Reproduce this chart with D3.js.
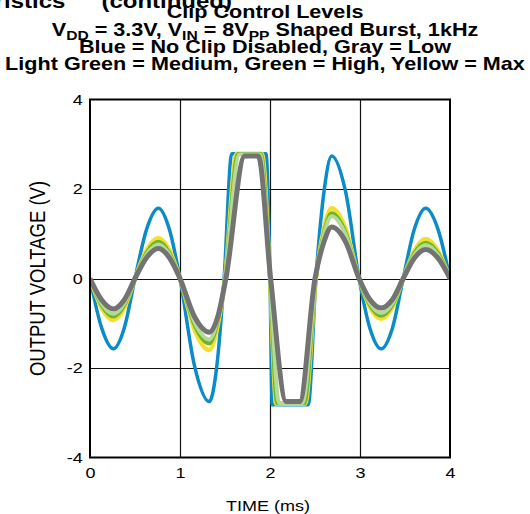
<!DOCTYPE html>
<html>
<head>
<meta charset="utf-8">
<script src="https://cdn.jsdelivr.net/npm/d3@7"></script>
<style>
  body { margin: 0; background: #fff; }
  svg { display: block; font-family: 'Liberation Sans', Arial, sans-serif; }
</style>
</head>
<body>
<svg width="530" height="514"></svg>
<script>
// scope trace points: [time (ms), output (V)]
const noClip = [[0, 0], [0.13, -1.11], [0.26, -1.57], [0.38, -1.11], [0.5, 0], [0.63, 1.11], [0.76, 1.57], [0.88, 1.11], [1.0, 0],
  [1.16, -1.94], [1.325, -2.75], [1.41, -1.94], [1.49, 0], [1.575, 2.79], [1.955, 2.79], [2.0, 0], [2.025, -2.82], [2.425, -2.82], [2.51, 0],
  [2.6, 1.94], [2.685, 2.74], [2.84, 1.94], [2.99, 0], [3.11, -1.11], [3.235, -1.57], [3.36, -1.11], [3.48, 0],
  [3.605, 1.11], [3.73, 1.57], [3.865, 1.11], [4.0, 0]];

const clipMax = [[0, 0], [0.13, -0.66], [0.26, -0.93], [0.38, -0.66], [0.5, 0], [0.63, 0.64], [0.76, 0.9], [0.88, 0.64], [1.0, 0],
  [1.16, -1.13], [1.325, -1.6], [1.41, -1.13], [1.5, 0], [1.63, 2.79], [1.91, 2.79], [2.0, 0], [2.07, -2.8], [2.39, -2.8], [2.51, 0],
  [2.6, 1.11], [2.685, 1.57], [2.84, 1.11], [2.99, 0], [3.11, -0.64], [3.235, -0.9], [3.36, -0.64], [3.48, 0],
  [3.605, 0.62], [3.73, 0.88], [3.865, 0.62], [4.0, 0]];

const clipHigh = [[0, 0], [0.13, -0.6], [0.26, -0.85], [0.38, -0.6], [0.5, 0], [0.63, 0.58], [0.76, 0.82], [0.88, 0.58], [1.0, 0],
  [1.16, -1.03], [1.325, -1.45], [1.41, -1.03], [1.5, 0], [1.645, 2.78], [1.9, 2.78], [2.0, 0], [2.08, -2.79], [2.38, -2.79], [2.51, 0],
  [2.6, 1.03], [2.685, 1.46], [2.84, 1.03], [2.99, 0], [3.11, -0.59], [3.235, -0.83], [3.36, -0.59], [3.48, 0],
  [3.605, 0.57], [3.73, 0.8], [3.865, 0.57], [4.0, 0]];

const clipMedium = [[0, 0], [0.13, -0.56], [0.26, -0.79], [0.38, -0.56], [0.5, 0], [0.63, 0.54], [0.76, 0.76], [0.88, 0.54], [1.0, 0],
  [1.16, -0.97], [1.325, -1.36], [1.41, -0.97], [1.5, 0], [1.66, 2.77], [1.89, 2.77], [2.0, 0], [2.1, -2.78], [2.36, -2.78], [2.51, 0],
  [2.6, 0.98], [2.685, 1.39], [2.84, 0.98], [2.99, 0], [3.11, -0.55], [3.235, -0.77], [3.36, -0.55], [3.48, 0],
  [3.605, 0.53], [3.73, 0.75], [3.865, 0.53], [4.0, 0]];

const clipLow = [[0, 0], [0.13, -0.48], [0.26, -0.68], [0.38, -0.48], [0.5, 0], [0.63, 0.47], [0.76, 0.67], [0.88, 0.47], [1.0, 0],
  [1.16, -0.85], [1.325, -1.2], [1.42, -0.85], [1.51, 0], [1.72, 2.74], [1.87, 2.74], [2.007, 0], [2.18, -2.75], [2.33, -2.75], [2.5, 0],
  [2.6, 0.82], [2.685, 1.15], [2.84, 0.82], [2.99, 0], [3.11, -0.47], [3.235, -0.66], [3.36, -0.47], [3.48, 0],
  [3.605, 0.46], [3.73, 0.65], [3.865, 0.46], [4.0, 0]];

const timeTicks = [0, 1, 2, 3, 4];
const voltTicks = [-4, -2, 0, 2, 4];

const titleLines = [
  [['Clip Control Levels']],
  [['V'], ['DD', true], [' = 3.3V, V'], ['IN', true], [' = 8V'], ['PP', true], [' Shaped Burst, 1kHz']],
  [['Blue = No Clip Disabled, Gray = Low']],
  [['Light Green = Medium, Green = High, Yellow = Max']],
];

// drawn back to front, gray ends up on top
const traces = [
  { points: noClip, colour: '#0b8cc9', width: 3.5 },
  { points: clipMax, colour: '#f4e02c', width: 4.5 },
  { points: clipHigh, colour: '#6bb52e', width: 4 },
  { points: clipMedium, colour: '#b6d995', width: 4 },
  { points: clipLow, colour: '#737373', width: 5 },
];

const svg = d3.select('svg');
const plot = { left: 90, right: 450, top: 99.5, bottom: 457.5 };
// the source figure's lettering is a bit wide for its height
const stretch = 'scale(1.2,1)';

const x = d3.scaleLinear().domain([0, 4]).range([plot.left, plot.right]);
const y = d3.scaleLinear().domain([-4, 4]).range([plot.bottom, plot.top]);

// section header, mostly cut off at the top of the page
svg.append('g')
  .attr('transform', `translate(232,7.5) ${stretch}`)
  .append('text')
  .attr('text-anchor', 'end')
  .style('font-weight', 'bold')
  .style('font-size', '20px')
  .style('white-space', 'pre')
  .text('Typical Characteristics\u2003\u2002(continued)');

const title = svg.append('g')
  .attr('transform', `translate(265,0) ${stretch}`)
  .append('text')
  .attr('text-anchor', 'middle')
  .style('font-weight', 'bold')
  .style('font-size', '18px');

const baselines = [18.5, 36, 53, 70];
titleLines.forEach(function(segments, i) {
  const line = title.append('tspan')
    .attr('x', 0)
    .attr('y', baselines[i]);
  segments.forEach(function([str, sub], j) {
    const t = line.append('tspan').text(str);
    if (sub) {
      t.attr('dy', 4).style('font-size', '13px');
    } else if (j > 0) {
      t.attr('dy', -4);
    }
  });
});

// grid
const grid = svg.append('g').attr('class', 'grid');

grid.selectAll('line.v')
  .data(timeTicks.slice(1, -1))
  .enter().append('line')
  .attr('class', 'v')
  .attr('x1', d => Math.round(x(d)) + 0.5)
  .attr('x2', d => Math.round(x(d)) + 0.5)
  .attr('y1', plot.top)
  .attr('y2', plot.bottom)
  .attr('stroke', '#111')
  .attr('stroke-width', 1.2);

grid.selectAll('line.h')
  .data(voltTicks.slice(1, -1))
  .enter().append('line')
  .attr('class', 'h')
  .attr('x1', plot.left)
  .attr('x2', plot.right)
  .attr('y1', d => Math.round(y(d)) + 0.5)
  .attr('y2', d => Math.round(y(d)) + 0.5)
  .attr('stroke', '#111')
  .attr('stroke-width', 1.2);

svg.append('clipPath').attr('id', 'plot-clip')
  .append('rect')
  .attr('x', plot.left)
  .attr('y', plot.top)
  .attr('width', plot.right - plot.left)
  .attr('height', plot.bottom - plot.top);

const line = d3.line()
  .x(d => x(d[0]))
  .y(d => y(d[1]))
  .curve(d3.curveMonotoneX);

svg.append('g')
  .attr('clip-path', 'url(#plot-clip)')
  .selectAll('path')
  .data(traces)
  .enter().append('path')
  .attr('d', d => line(d.points))
  .attr('fill', 'none')
  .attr('stroke', d => d.colour)
  .attr('stroke-width', d => d.width)
  .attr('stroke-linejoin', 'round');

// frame
svg.append('rect')
  .attr('x', plot.left)
  .attr('y', plot.top)
  .attr('width', plot.right - plot.left)
  .attr('height', plot.bottom - plot.top)
  .attr('fill', 'none')
  .attr('stroke', '#000')
  .attr('stroke-width', 2);

const xAxis = svg.append('g')
  .attr('transform', `translate(0,${plot.bottom})`)
  .call(d3.axisBottom(x).tickValues(timeTicks).tickSize(0).tickPadding(10).tickFormat(d => String(d)));

const yAxis = svg.append('g')
  .attr('transform', `translate(${plot.left},0)`)
  .call(d3.axisLeft(y).tickValues(voltTicks).tickSize(0).tickPadding(6).tickFormat(d => String(d)));

[xAxis, yAxis].forEach(function(axis) {
  axis.select('.domain').remove();
  axis.selectAll('text')
    .attr('fill', '#000')
    .attr('transform', stretch)
    .style('font-family', "'Liberation Sans', Arial, sans-serif")
    .style('font-size', '15px');
});

svg.append('g')
  .attr('transform', `translate(268,511) ${stretch}`)
  .append('text')
  .attr('text-anchor', 'middle')
  .style('font-size', '15px')
  .text('TIME (ms)');

svg.append('g')
  .attr('transform', `translate(45,${(plot.top + plot.bottom) / 2}) ${stretch} rotate(-90)`)
  .append('text')
  .attr('text-anchor', 'middle')
  .style('font-size', '18.5px')
  .text('OUTPUT VOLTAGE (V)');
</script>
</body>
</html>
